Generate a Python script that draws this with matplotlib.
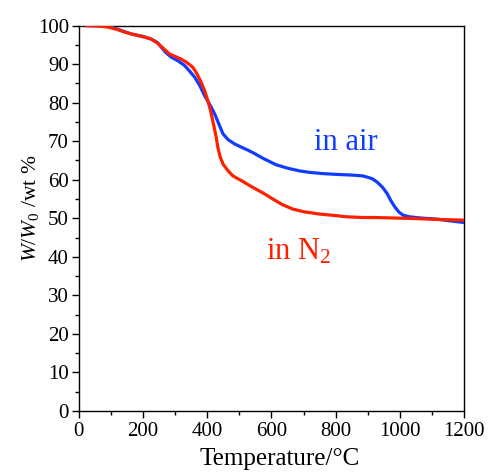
import matplotlib
matplotlib.use("Agg")
import matplotlib.pyplot as plt
from matplotlib.ticker import MultipleLocator

# TGA curves (temperature in degC, residual weight in %)
air_temp = [20, 60, 91, 130, 164, 200, 226, 245, 257, 270, 288, 310, 330, 345,
            361, 377, 392, 408, 423, 437, 449, 465, 485, 505, 526, 545, 575,
            614, 650, 687, 720, 759, 800, 853, 884, 905, 915, 930, 946, 960,
            972, 985, 998, 1010, 1029, 1060, 1112, 1150, 1200]
air_weight = [100, 100, 99.9, 98.8, 97.8, 97.2, 96.5, 95.6, 94.4, 93.1, 91.8,
              90.8, 89.6, 88.2, 86.6, 84.4, 81.8, 79.5, 77.1, 74.3, 71.9, 70.4,
              69.3, 68.5, 67.7, 66.9, 65.5, 63.9, 63.0, 62.3, 61.9, 61.6, 61.4,
              61.2, 61.0, 60.5, 60.2, 59.3, 58.0, 56.4, 54.5, 52.8, 51.5, 50.8,
              50.4, 50.1, 49.8, 49.4, 48.9]

n2_temp = [20, 60, 91, 120, 143, 175, 205, 225, 241, 262, 283, 300, 319, 337,
           355, 368, 381, 392, 402, 410, 418, 428, 433, 440, 449, 465, 480,
           510, 542, 575, 604, 635, 666, 700, 749, 800, 832, 884, 925, 1039,
           1120, 1200]
n2_weight = [100, 99.9, 99.6, 99.0, 98.3, 97.6, 97.0, 96.5, 95.7, 94.2, 92.6,
             92.0, 91.3, 90.4, 89.2, 87.5, 85.3, 83.1, 80.5, 78.0, 75.0, 71.0,
             68.4, 66.0, 64.1, 62.3, 61.0, 59.6, 58.0, 56.5, 55.0, 53.5, 52.4,
             51.7, 51.1, 50.7, 50.4, 50.2, 50.2, 49.95, 49.7, 49.5]

BLUE = "#0f3cff"
RED = "#ff2000"

plt.rcParams.update({
    "font.family": ["Liberation Serif", "DejaVu Serif"],
    "mathtext.fontset": "custom",
    "mathtext.rm": "Liberation Serif",
    "mathtext.it": "Liberation Serif:italic",
    "axes.linewidth": 1.0,
})

fig = plt.figure(figsize=(4.88, 4.73), dpi=100)
ax = fig.add_axes([0.1613, 0.1311, 0.7901, 0.8148])

ax.plot(air_temp, air_weight, color=BLUE, lw=2.3, solid_capstyle="butt", zorder=3)
ax.plot(n2_temp, n2_weight, color=RED, lw=2.3, solid_capstyle="butt", zorder=4)

ax.set_xlim(0, 1200)
ax.set_ylim(0, 100)
ax.xaxis.set_major_locator(MultipleLocator(200))
ax.xaxis.set_minor_locator(MultipleLocator(100))
ax.yaxis.set_major_locator(MultipleLocator(10))
ax.yaxis.set_minor_locator(MultipleLocator(5))
ax.tick_params(which="both", direction="out", top=False, right=False,
               labelsize=15, width=1.0)
ax.tick_params(which="major", length=5)
ax.tick_params(which="minor", length=3)
ax.tick_params(axis="y", pad=2)
ax.tick_params(axis="x", pad=3)

ax.set_xlabel("Temperature/\u00b0C", fontsize=18)
ax.xaxis.set_label_coords(0.521, -0.097)
ax.set_ylabel(r"$W/W_{\mathrm{0}}$ /wt %", fontsize=15.5)
ax.yaxis.set_label_coords(-0.098, 0.527)

ax.text(830, 69.6, "in air", color=BLUE, fontsize=22, ha="center", va="center")
ax.text(685, 41.3, r"in N$_\mathrm{2}$", color=RED, fontsize=22, ha="center", va="center")

fig.savefig("out.png", dpi=100)
